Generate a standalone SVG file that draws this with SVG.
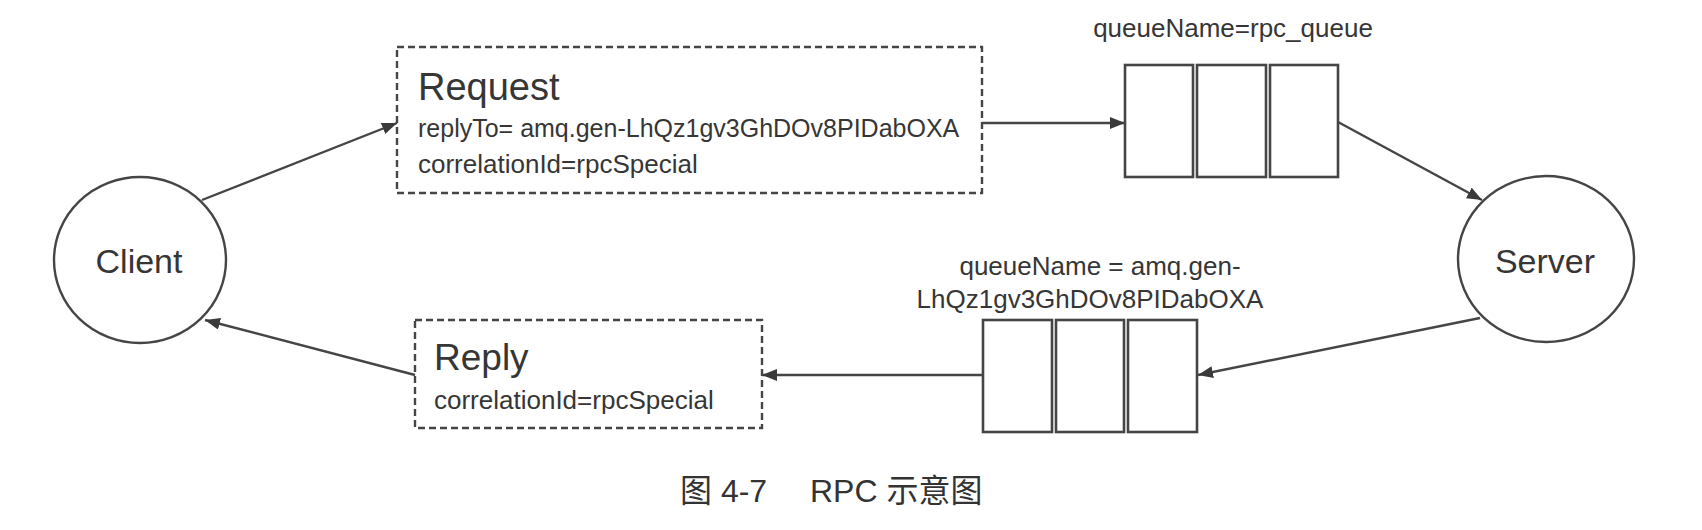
<svg xmlns="http://www.w3.org/2000/svg" width="1702" height="530" viewBox="0 0 1702 530">
<style>
.bg{fill:#ffffff}
.node{fill:none;stroke:#454545;stroke-width:2.4}
.dash{fill:none;stroke:#454545;stroke-width:2.4;stroke-dasharray:7,4}
.cell{fill:#ffffff;stroke:#454545;stroke-width:2.6}
.edge{fill:none;stroke:#454545;stroke-width:2.4;marker-end:url(#arrow)}
.t{font-family:"Liberation Sans",Arial,sans-serif;fill:#363636}
.cap{font-family:"Liberation Sans","Noto Sans CJK SC",sans-serif;fill:#333333;font-size:32px}
</style>
<defs>
<marker id="arrow" markerUnits="userSpaceOnUse" markerWidth="16" markerHeight="14" refX="15" refY="6" orient="auto">
<path d="M0,0 L15,6 L0,12 z" fill="#3a3a3a"/>
</marker>
</defs>
<rect class="bg" x="0" y="0" width="1702" height="530"/>

<g id="connectors">
<path class="edge" d="M202,200 L397,123"/>
<path class="edge" d="M982,123 L1125,123"/>
<path class="edge" d="M1338,122 L1482,200"/>
<path class="edge" d="M1480,318 L1198,375"/>
<path class="edge" d="M983,375 L762,375"/>
<path class="edge" d="M415,375 L205,320"/>
</g>

<g id="client">
<ellipse class="node" cx="140" cy="260" rx="86" ry="83"/>
<text class="t" x="139" y="273" font-size="34" text-anchor="middle">Client</text>
</g>

<g id="request">
<rect class="dash" x="397" y="47" width="585" height="146"/>
<text class="t" x="418" y="100" font-size="38">Request</text>
<text class="t" x="418" y="137" font-size="25">replyTo= amq.gen-LhQz1gv3GhDOv8PIDabOXA</text>
<text class="t" x="418" y="173" font-size="26">correlationId=rpcSpecial</text>
</g>

<g id="rpc_queue">
<text class="t" x="1233" y="37" font-size="26" text-anchor="middle">queueName=rpc_queue</text>
<rect class="cell" x="1125" y="65" width="68" height="112"/>
<rect class="cell" x="1197" y="65" width="69" height="112"/>
<rect class="cell" x="1270" y="65" width="68" height="112"/>
</g>

<g id="server">
<ellipse class="node" cx="1546" cy="259" rx="88" ry="83"/>
<text class="t" x="1545" y="273" font-size="34" text-anchor="middle">Server</text>
</g>

<g id="reply_queue">
<text class="t" x="1100" y="275" font-size="26" text-anchor="middle">queueName = amq.gen-</text>
<text class="t" x="1090" y="308" font-size="26" text-anchor="middle">LhQz1gv3GhDOv8PIDabOXA</text>
<rect class="cell" x="983" y="320" width="69" height="112"/>
<rect class="cell" x="1056" y="320" width="68" height="112"/>
<rect class="cell" x="1128" y="320" width="69" height="112"/>
</g>

<g id="reply">
<rect class="dash" x="415" y="320" width="347" height="108"/>
<text class="t" x="434" y="370" font-size="37">Reply</text>
<text class="t" x="434" y="409" font-size="26">correlationId=rpcSpecial</text>
</g>

<g id="caption">
<text class="cap" x="680" y="502">图 4-7</text>
<text class="cap" x="810" y="502">RPC 示意图</text>
</g>
</svg>
